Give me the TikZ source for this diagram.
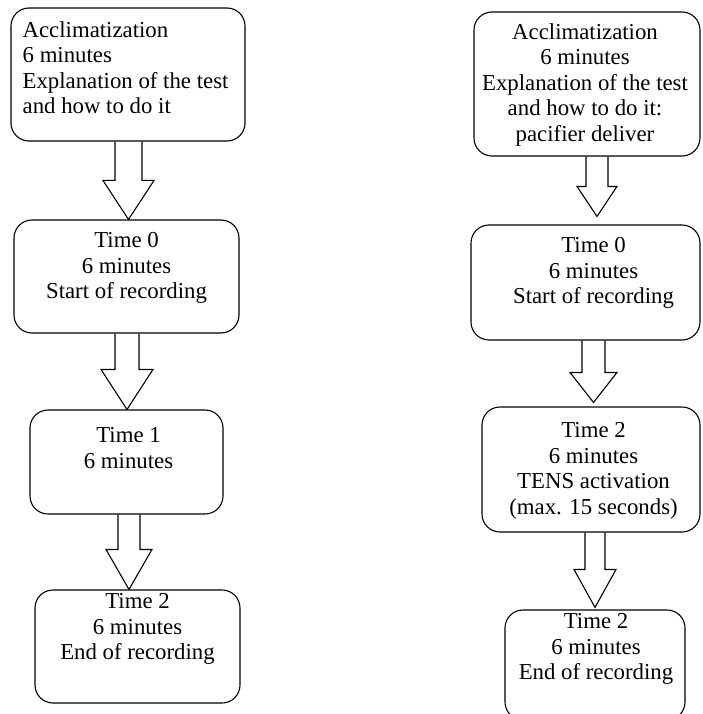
\documentclass[tikz,border=0pt]{standalone}
\usepackage{fontspec}
\setmainfont{Liberation Serif}
\usepackage{tikz}
\usetikzlibrary{positioning,calc}
\newcommand{\stagebox}[5][]{
	\node [box, minimum width=#4pt, minimum height=#5pt] (#1) at (#2, #3) {};
}
\newcommand{\blockarrow}[7][0]{
	% from, to, x of the arrow, half shaft, half head, head length
	\draw [hollow] let \p1 = (#2.south), \p2 = (#3.north) in
		(#4-#5, \y1) -- (#4-#5, \y2+#1+#7) -- (#4-#6, \y2+#1+#7) -- (#4, \y2+#1)
		-- (#4+#6, \y2+#1+#7) -- (#4+#5, \y2+#1+#7) -- (#4+#5, \y1);
}
\tikzset{
	box/.style={draw, rounded corners=18pt, line width=1.1pt, inner sep=0pt},
	hollow/.style={draw, line width=1.1pt, line join=miter},
	steptext/.style={inner sep=0pt, align=center, font=\fontsize{22.8}{25.5}\selectfont}
}

\begin{document}
\begin{tikzpicture}[x=1pt, y=1pt]
		\useasboundingbox (0, 0) rectangle (702, -714);
		% left column
		\stagebox[a1]{128}{-74.5}{234}{133}
		\stagebox[a2]{126.5}{-276.5}{225}{113}
		\stagebox[a3]{126.5}{-462}{193}{104}
		\stagebox[a4]{137.5}{-646.5}{205}{113}
		% right column
		\stagebox[b1]{587}{-84}{226}{144}
		\stagebox[b2]{585.5}{-282.5}{229}{115}
		\stagebox[b3]{591}{-469.5}{218}{125}
		\stagebox[b4]{595}{-665}{180}{110}
		\node [steptext, align=left, below right=14pt and 12pt of a1.north west] (a1text)
			{Acclimatization\\6 minutes\\Explanation of the test\\and how to do it};
		\node [steptext, below=13pt of a2.north] (a2text) {Time 0\\6 minutes\\Start of recording};
		\node [steptext, below=18pt of a3.north, xshift=2pt] (a3text) {Time 1\\6 minutes};
		\node [steptext, below=4pt of a4.north] (a4text) {Time 2\\6 minutes\\End of recording};
		\node [steptext, below=12pt of b1.north, xshift=-2pt] (b1text)
			{Acclimatization\\6 minutes\\Explanation of the test\\and how to do it:\\pacifier deliver};
		\node [steptext, below=13pt of b2.north, xshift=8pt] (b2text) {Time 0\\6 minutes\\Start of recording};
		\node [steptext, below=16pt of b3.north, xshift=2.5pt] (b3text)
			{Time 2\\6 minutes\\TENS activation\\(max. 15 seconds)};
		\node [steptext, below=4pt of b4.north, xshift=1pt] (b4text) {Time 2\\6 minutes\\End of recording};
		\blockarrow{a1}{a2}{128.5}{13.5}{25.5}{39}
		\blockarrow{a2}{a3}{127}{12}{26}{40}
		\blockarrow{a3}{a4}{129}{11}{23}{40}
		\blockarrow[8]{b1}{b2}{597}{11}{20}{30}
		\blockarrow[4]{b2}{b3}{593.5}{11.5}{23.5}{30}
		\blockarrow[2]{b3}{b4}{595}{10}{21}{38}
		\end{tikzpicture}
\end{document}
